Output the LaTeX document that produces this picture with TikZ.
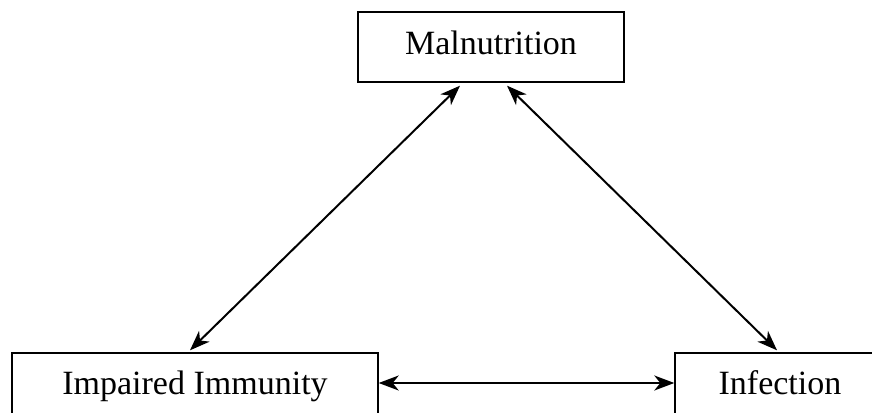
\documentclass[tikz,border=0pt]{standalone}
\usepackage{fontspec}
\setmainfont{Liberation Serif}
\usetikzlibrary{arrows.meta}
\begin{document}
\begin{tikzpicture}[x=1pt,y=1pt,
  box/.style={draw=black, line width=1.4pt, inner sep=0pt,
    font=\fontsize{34}{40}\selectfont, text height=24pt, text depth=8pt},
  link/.style={line width=2pt, >={Stealth[length=20pt,width=15pt,inset=6pt]}, <->}]
  \useasboundingbox (0,0) rectangle (872,412);
  \clip (0,0) rectangle (872,412);
  % top factor
  \node[box, minimum width=266pt, minimum height=70pt] (mal) at (491,365) {Malnutrition};
  % bottom factors, running past the lower and right page edges
  \node[box, minimum width=366pt, minimum height=68pt] (imp) at (195,25) {Impaired Immunity};
  \node[box, minimum width=210pt, minimum height=68pt] (inf) at (780,25) {Infection};
  % two-way links between the three factors
  \draw[link] ([xshift=-31pt,yshift=-3pt]mal.south) -- ([xshift=-5pt,yshift=2pt]imp.north);
  \draw[link] ([xshift=16pt,yshift=-3pt]mal.south) -- ([xshift=-3pt,yshift=2pt]inf.north);
  \draw[link] ([yshift=4pt]imp.east) -- ([yshift=4pt]inf.west);
\end{tikzpicture}
\end{document}
